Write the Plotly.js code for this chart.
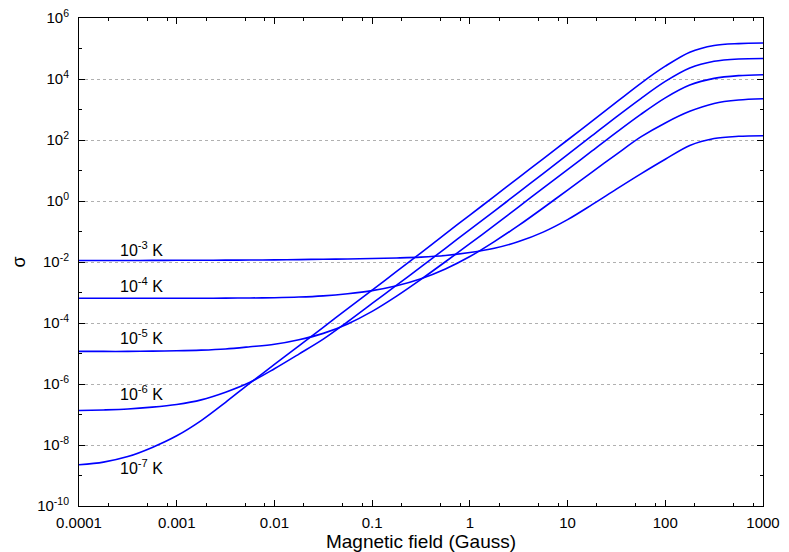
<!DOCTYPE html>
<html>
<head>
<meta charset="utf-8">
<script src="https://cdn.plot.ly/plotly-3.0.1.min.js"></script>
<style>
  body { margin: 0; background: #fff; }
  #plot { width: 789px; height: 552px; }
</style>
</head>
<body>
<div id="plot"></div>
<script>
// Magnetic field (Gauss), read at quarter decades
let field = [1e-4, 1.78e-4, 3.16e-4, 5.62e-4, 1e-3, 1.78e-3, 3.16e-3, 5.62e-3,
             0.01, 0.0178, 0.0316, 0.0562, 0.1, 0.178, 0.316, 0.562,
             1, 1.78, 3.16, 5.62, 10, 17.8, 31.6, 56.2, 100, 178, 316, 562, 1000];

// sigma for each temperature
let sigma1e3 = [1.12e-2, 1.12e-2, 1.12e-2, 1.13e-2, 1.135e-2, 1.14e-2, 1.15e-2, 1.16e-2,
                1.17e-2, 1.20e-2, 1.23e-2, 1.26e-2, 1.30e-2, 1.36e-2, 1.45e-2, 1.64e-2,
                2.04e-2, 2.82e-2, 4.68e-2, 9.55e-2, 0.245, 0.759, 2.45, 7.76, 23.4, 66.1, 112, 132, 138];
let sigma1e4 = [6.46e-4, 6.46e-4, 6.46e-4, 6.46e-4, 6.46e-4, 6.46e-4, 6.53e-4, 6.61e-4,
                6.76e-4, 7.08e-4, 7.76e-4, 9.12e-4, 1.15e-3, 1.66e-3, 2.82e-3, 5.89e-3,
                1.51e-2, 4.68e-2, 0.158, 0.589, 2.29, 8.91, 33.9, 126, 363, 871, 1580, 2040, 2240];
let sigma1e5 = [1.17e-5, 1.17e-5, 1.17e-5, 1.20e-5, 1.23e-5, 1.29e-5, 1.41e-5, 1.66e-5,
                2.0e-5, 2.82e-5, 4.57e-5, 9.33e-5, 2.40e-4, 7.59e-4, 2.69e-3, 1.02e-2,
                3.98e-2, 0.158, 0.646, 2.63, 10.7, 43.7, 178, 692, 2400, 6310, 10500, 12900, 13800];
let sigma1e6 = [1.35e-7, 1.41e-7, 1.51e-7, 1.74e-7, 2.14e-7, 3.02e-7, 5.37e-7, 1.135e-6,
                3.16e-6, 9.55e-6, 2.95e-5, 1.10e-4, 4.37e-4, 1.74e-3, 6.92e-3, 2.82e-2,
                0.115, 0.468, 1.91, 7.94, 33.1, 138, 575, 2290, 8320, 22900, 38000, 45200, 46800];
let sigma1e7 = [2.24e-9, 2.75e-9, 4.17e-9, 8.32e-9, 2.0e-8, 6.31e-8, 2.51e-7, 1.07e-6,
                4.37e-6, 1.78e-5, 7.24e-5, 2.95e-4, 1.20e-3, 4.90e-3, 2.0e-2, 8.32e-2,
                0.347, 1.41, 5.89, 24.0, 100, 417, 1740, 7240, 26300, 75900, 126000, 145000, 151000];

let curveLabels = ["10<sup>-3</sup> K", "10<sup>-4</sup> K", "10<sup>-5</sup> K", "10<sup>-6</sup> K", "10<sup>-7</sup> K"];
let curves = [sigma1e3, sigma1e4, sigma1e5, sigma1e6, sigma1e7];

// tick labels
let xTickVals = [1e-4, 1e-3, 1e-2, 0.1, 1, 10, 100, 1000];
let xTickText = ["0.0001", "0.001", "0.01", "0.1", "1", "10", "100", "1000"];
let yTickVals = [1e-10, 1e-8, 1e-6, 1e-4, 1e-2, 1, 1e2, 1e4, 1e6];
let yTickText = ["10<sup>-10</sup>", "10<sup>-8</sup>", "10<sup>-6</sup>", "10<sup>-4</sup>", "10<sup>-2</sup>",
                 "10<sup>0</sup>", "10<sup>2</sup>", "10<sup>4</sup>", "10<sup>6</sup>"];

// minor ticks: 2, 5, 8 on x; odd decades on y
let xMinor = [];
for (let d = -4; d < 3; d++) {
  [2, 5, 8].forEach(m => xMinor.push(m * Math.pow(10, d)));
}
let yMinor = [];
for (let d = -9; d < 6; d += 2) yMinor.push(Math.pow(10, d));

let data = curves.map((s, i) => ({
  x: field,
  y: s,
  name: curveLabels[i],
  type: "scatter",
  mode: "lines",
  line: {color: "#0000ff", width: 1.6, shape: "spline", smoothing: 0.9}
}));

// label positions (log10 units of the axes)
let labelX = [-3.36, -3.36, -3.36, -3.36, -3.36];
let labelY = [-1.56, -2.74, -4.45, -6.28, -8.71];
let annotations = curveLabels.map((t, i) => ({
  x: labelX[i], y: labelY[i], xref: "x", yref: "y",
  text: t, showarrow: false,
  font: {size: 16, color: "#000"}
}));

let axisCommon = {
  type: "log",
  tickmode: "array",
  ticks: "inside",
  ticklen: 6,
  tickwidth: 1,
  tickcolor: "#000",
  showline: true,
  linecolor: "#000",
  linewidth: 1,
  mirror: "ticks",
  zeroline: false
};

let layout = {
  width: 789,
  height: 552,
  margin: {l: 79, r: 26, t: 18, b: 46},
  showlegend: false,
  paper_bgcolor: "#fff",
  plot_bgcolor: "#fff",
  font: {family: "Liberation Sans, Arial, sans-serif", size: 15, color: "#000"},
  annotations: annotations,
  xaxis: Object.assign({}, axisCommon, {
    range: [-4, 3],
    tickvals: xTickVals,
    ticktext: xTickText,
    showgrid: false,
    ticklabelstandoff: 3,
    minor: {tickmode: "array", tickvals: xMinor, ticks: "inside", ticklen: 3, tickcolor: "#000", showgrid: false},
    title: {text: "Magnetic field (Gauss)", font: {size: 19}, standoff: 2}
  }),
  yaxis: Object.assign({}, axisCommon, {
    range: [-10, 6],
    tickvals: yTickVals,
    ticktext: yTickText,
    showgrid: true,
    gridcolor: "#b0b0b0",
    griddash: "dot",
    gridwidth: 1,
    ticklabelstandoff: 6,
    minor: {tickmode: "array", tickvals: yMinor, ticks: "inside", ticklen: 3, tickcolor: "#000", showgrid: false},
    title: {text: "σ", font: {size: 18}, standoff: 6}
  })
};

Plotly.newPlot("plot", data, layout, {displayModeBar: false});
</script>
</body>
</html>
